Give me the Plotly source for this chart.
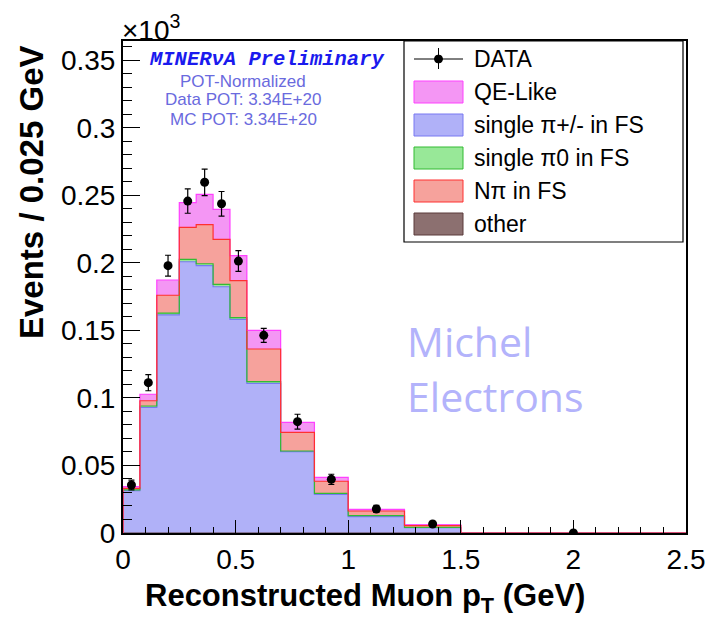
import plotly.graph_objects as go

# ---------------- data (values in units of 10^3 events / 0.025 GeV) ----------------
bin_edges = [0, 0.075, 0.15, 0.25, 0.325, 0.4, 0.475, 0.55, 0.7, 0.85, 1.0, 1.25, 1.5, 2.5]

single_pipm = [0.0313, 0.0930, 0.1614, 0.2008, 0.1979, 0.1823, 0.1582, 0.1108, 0.0602, 0.0286, 0.0121, 0.0039, 0.0]
single_pi0 = [0.0006, 0.0010, 0.0014, 0.0018, 0.0014, 0.0018, 0.0012, 0.0012, 0.0005, 0.0008, 0.0007, 0.0003, 0.0]
n_pi = [0.0012, 0.0039, 0.0132, 0.0237, 0.0289, 0.0333, 0.0274, 0.0242, 0.0138, 0.0089, 0.0035, 0.0012, 0.0]
qe_like = [0.0012, 0.0048, 0.0113, 0.0182, 0.0225, 0.0222, 0.0185, 0.0138, 0.0074, 0.0029, 0.0012, 0.0007, 0.0]
other = [0.0, 0.0, 0.0, 0.0, 0.0, 0.0, 0.0, 0.0, 0.0, 0.0, 0.0, 0.0, 0.0]

data_vals = [0.0355, 0.1113, 0.1979, 0.2457, 0.2596, 0.2437, 0.2013, 0.1463, 0.0824, 0.0397, 0.0178, 0.0067, 0.0]
data_errs = [0.0036, 0.0060, 0.0077, 0.0090, 0.0098, 0.0091, 0.0077, 0.0052, 0.0055, 0.0038, 0.0026, 0.0016, 0.0]

y_ticks = [0, 0.05, 0.1, 0.15, 0.2, 0.25, 0.3, 0.35]
y_tick_labels = ["0", "0.05", "0.1", "0.15", "0.2", "0.25", "0.3", "0.35"]
x_ticks = [0, 0.5, 1, 1.5, 2, 2.5]
x_tick_labels = ["0", "0.5", "1", "1.5", "2", "2.5"]

legend_labels = ["DATA", "QE-Like", "single \u03c0+/- in FS", "single \u03c00 in FS", "N\u03c0 in FS", "other"]

# ---------------- derived ----------------
centers = [(a + b) / 2 for a, b in zip(bin_edges[:-1], bin_edges[1:])]
widths = [b - a for a, b in zip(bin_edges[:-1], bin_edges[1:])]

FONT = "Liberation Sans, Arial, Helvetica, sans-serif"

# (name, values, fill, edge)
stack = [
    ("other", other, "#8c7070", "#5a3a3a"),
    ("single \u03c0+/- in FS", single_pipm, "#b0b1f8", "#7878f2"),
    ("single \u03c00 in FS", single_pi0, "#98e898", "#33bb33"),
    ("N\u03c0 in FS", n_pi, "#f6a29c", "#ff3030"),
    ("QE-Like", qe_like, "#f496f4", "#ff40ff"),
]

fig = go.Figure()

for name, vals, fill, edge in stack:
    fig.add_trace(go.Bar(
        x=centers, y=vals, width=widths, name=name,
        marker=dict(color=fill, line=dict(width=0)),
        showlegend=False, hoverinfo="skip",
    ))

# step outlines of each stacked component (cumulative tops)
cum = [0.0] * len(centers)
outlines = []
for name, vals, fill, edge in stack:
    cum = [c + v for c, v in zip(cum, vals)]
    outlines.append((name, list(cum), edge))
order = [0, 1, 2, 4, 3]  # draw the red outline last
for i in order:
    name, tops, edge = outlines[i]
    fig.add_trace(go.Scatter(
        x=[bin_edges[0]] + bin_edges, y=[0.0] + tops + [tops[-1]],
        mode="lines", line=dict(color=edge, width=1.2, shape="hv"),
        showlegend=False, hoverinfo="skip",
    ))

fig.add_trace(go.Scatter(
    x=centers, y=data_vals, mode="markers", name="DATA",
    marker=dict(color="black", size=9),
    error_y=dict(type="data", array=data_errs, color="black", thickness=1.2, width=3),
    showlegend=False,
))

# ---------------- layout ----------------
L, R, T, B = 123, 686, 41, 533
W, H = 705, 625


def px(x):
    return (x - L) / (R - L)


def py(y):
    return (B - y) / (B - T)


fig.update_layout(
    width=W, height=H,
    margin=dict(l=L, r=W - R, t=T, b=H - B, autoexpand=False),
    paper_bgcolor="white", plot_bgcolor="white",
    barmode="stack", bargap=0, showlegend=False,
    font=dict(family=FONT, color="black"),
)

fig.update_xaxes(
    range=[0, 2.5], tickvals=x_ticks, ticktext=x_tick_labels,
    ticks="inside", ticklen=13, tickwidth=1.2, tickcolor="black",
    minor=dict(dtick=0.1, ticks="inside", ticklen=6, tickwidth=1, tickcolor="black"),
    showline=True, linecolor="black", linewidth=2, mirror=True,
    showgrid=False, zeroline=False, ticklabeloverflow="allow", automargin=False,
    tickfont=dict(family=FONT, size=28),
)
fig.update_yaxes(
    range=[0, 0.3642], tickvals=y_ticks, ticktext=y_tick_labels,
    ticks="inside", ticklen=17, tickwidth=1.2, tickcolor="black",
    minor=dict(dtick=0.01, ticks="inside", ticklen=9, tickwidth=1, tickcolor="black"),
    showline=True, linecolor="black", linewidth=2, mirror=True,
    showgrid=False, zeroline=False, ticklabeloverflow="allow", automargin=False,
    tickfont=dict(family=FONT, size=28),
)

ann = []
# x-axis title (ROOT placement)
ann.append(dict(text="<b>Reconstructed Muon p<sub>T</sub> (GeV)</b>",
                x=px(365), y=py(598), xref="paper", yref="paper",
                xanchor="center", yanchor="middle", showarrow=False,
                font=dict(family=FONT, size=31, color="black")))
# y-axis title (ROOT-style, aligned toward top)
ann.append(dict(text="<b>Events / 0.025 GeV</b>", textangle=-90,
                x=px(31), y=py(192), xref="paper", yref="paper",
                xanchor="center", yanchor="middle", showarrow=False,
                font=dict(family=FONT, size=33, color="black")))
# exponent
ann.append(dict(text="\u00d710<sup>3</sup>", x=px(120), y=py(48), xref="paper", yref="paper",
                xanchor="left", yanchor="bottom", showarrow=False,
                font=dict(family=FONT, size=28, color="black")))
# MINERvA text block
ann.append(dict(text="<b><i>MINER\u03bdA Preliminary</i></b>", x=px(266), y=py(60),
                xref="paper", yref="paper", xanchor="center", yanchor="middle", showarrow=False,
                font=dict(family="Liberation Mono, Courier New, monospace", size=20.5, color="#1a1aee")))
for txt, yy in [("POT-Normalized", 81), ("Data POT: 3.34E+20", 100), ("MC POT: 3.34E+20", 119)]:
    ann.append(dict(text=txt, x=px(243), y=py(yy), xref="paper", yref="paper",
                    xanchor="center", yanchor="middle", showarrow=False,
                    font=dict(family=FONT, size=17, color="#6a6ade")))
# Michel Electrons
ann.append(dict(text="Michel", x=px(405), y=py(341), xref="paper", yref="paper",
                xanchor="left", yanchor="middle", showarrow=False,
                font=dict(family="Open Sans, Noto Sans, sans-serif", size=41, color="#b3b3fb")))
ann.append(dict(text="Electrons", x=px(405), y=py(396), xref="paper", yref="paper",
                xanchor="left", yanchor="middle", showarrow=False,
                font=dict(family="Open Sans, Noto Sans, sans-serif", size=41, color="#b3b3fb")))

# legend (ROOT TLegend look)
shapes = []
shapes.append(dict(type="rect", xref="paper", yref="paper",
                   x0=px(404), x1=px(683), y0=py(242), y1=py(41),
                   line=dict(color="black", width=1.2), fillcolor="white", layer="above"))
row_y = [59, 92, 125, 158, 191, 224]
sw_x0, sw_x1 = 414, 463
legend_styles = [None,
                 ("#f496f4", "#ff40ff"),
                 ("#b0b1f8", "#7878f2"),
                 ("#98e898", "#33bb33"),
                 ("#f6a29c", "#ff3030"),
                 ("#8c7070", "#5a3a3a")]
for lab, yy, sty in zip(legend_labels, row_y, legend_styles):
    if sty is None:
        shapes.append(dict(type="line", xref="paper", yref="paper",
                           x0=px(sw_x0), x1=px(sw_x1), y0=py(yy), y1=py(yy),
                           line=dict(color="black", width=1), layer="above"))
        shapes.append(dict(type="line", xref="paper", yref="paper",
                           x0=px(438.5), x1=px(438.5), y0=py(yy - 11), y1=py(yy + 10),
                           line=dict(color="black", width=1), layer="above"))
        shapes.append(dict(type="circle", xref="paper", yref="paper",
                           x0=px(434.5), x1=px(442.5), y0=py(yy - 4), y1=py(yy + 4),
                           line=dict(color="black", width=1), fillcolor="black", layer="above"))
    else:
        shapes.append(dict(type="rect", xref="paper", yref="paper",
                           x0=px(sw_x0), x1=px(sw_x1), y0=py(yy + 11), y1=py(yy - 11),
                           line=dict(color=sty[1], width=1), fillcolor=sty[0], layer="above"))
    ann.append(dict(text=lab, x=px(472), y=py(yy), xref="paper", yref="paper",
                    xanchor="left", yanchor="middle", showarrow=False,
                    font=dict(family=FONT, size=23, color="black")))

fig.update_layout(annotations=ann, shapes=shapes)

fig.write_html("out.html")
